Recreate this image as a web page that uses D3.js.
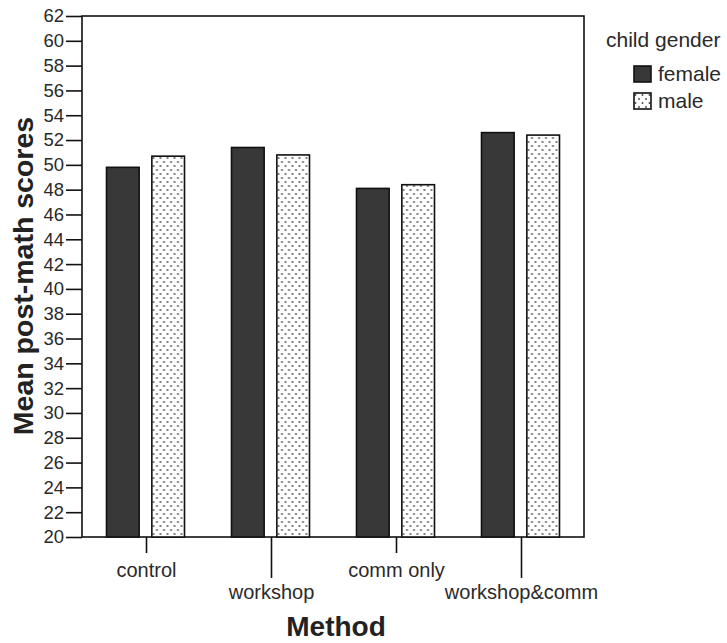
<!DOCTYPE html>
<html><head><meta charset="utf-8">
<script src="https://cdn.jsdelivr.net/npm/d3@7"></script>
<style>body{margin:0;background:#fff}svg{display:block}</style>
</head><body>
<svg id="c" width="727" height="643"></svg>
<script>
const methods = ["control","workshop","comm only","workshop&comm"];
const genders = ["female","male"];
const femaleValues = [49.8, 51.4, 48.1, 52.6];
const maleValues = [50.7, 50.8, 48.4, 52.4];
const yTicks = d3.range(20, 63, 2);

const svg = d3.select("#c");
const font = "'Liberation Sans', Arial, sans-serif";
const L = 82, R = 584, T = 16, B = 537;

const defs = svg.append("defs");
const pat = defs.append("pattern").attr("id","dots").attr("patternUnits","userSpaceOnUse")
  .attr("width",7).attr("height",8);
pat.append("rect").attr("width",7).attr("height",8).attr("fill","#fff");
pat.append("circle").attr("cx",1.5).attr("cy",2).attr("r",0.9).attr("fill","#444");
pat.append("circle").attr("cx",5).attr("cy",6).attr("r",0.9).attr("fill","#444");

const x = d3.scaleBand().domain(methods).range([L + 2, R]);
const x1 = d3.scaleBand().domain(genders).range([0, 78]).paddingInner(0.28);
const y = d3.scaleLinear().domain([20, 62]).range([B, T]);

const data = methods.map((m,i)=>({m, vals:[{g:"female",v:femaleValues[i]},{g:"male",v:maleValues[i]}]}));

// frame
svg.append("rect").attr("x",L).attr("y",T).attr("width",R-L).attr("height",B-T)
  .attr("fill","none").attr("stroke","#111").attr("stroke-width",1.6);

// bars
const g = svg.selectAll(".grp").data(data).enter().append("g")
  .attr("transform", d=>`translate(${x(d.m)+x.bandwidth()/2-40},0)`);
g.selectAll("rect").data(d=>d.vals).enter().append("rect")
  .attr("x", d=>x1(d.g)).attr("width", x1.bandwidth())
  .attr("y", d=>y(d.v)).attr("height", d=>B-y(d.v))
  .attr("fill", d=>d.g==="female" ? "#383838" : "url(#dots)")
  .attr("stroke","#111").attr("stroke-width",1.6);

// y axis
const yAxis = d3.axisLeft(y).tickValues(yTicks).tickSize(16).tickPadding(2).tickFormat(d3.format("d"));
const ya = svg.append("g").attr("transform",`translate(${L},0)`).call(yAxis);
ya.select(".domain").remove();
ya.selectAll("line").attr("stroke","#111").attr("stroke-width",1.6);
ya.selectAll("text").attr("font-family",font).attr("font-size",18.5).attr("fill","#2a2a2a");

// x axis
const xa = svg.append("g").attr("transform",`translate(0,${B})`).call(d3.axisBottom(x).tickSize(0));
xa.select(".domain").remove();
xa.selectAll(".tick line").attr("y2",(d,i)=> i%2 ? 41 : 16).attr("stroke","#111").attr("stroke-width",1.6);
xa.selectAll(".tick text").attr("y",(d,i)=> i%2 ? 62 : 40).attr("dy",0).attr("font-family",font).attr("font-size",20).attr("fill","#2a2a2a");

// titles
svg.append("text").attr("transform","translate(33,276) rotate(-90)").attr("text-anchor","middle")
  .attr("font-family",font).attr("font-size",28.5).attr("font-weight","bold").attr("fill","#222")
  .text("Mean post-math scores");
svg.append("text").attr("x",336).attr("y",636).attr("text-anchor","middle")
  .attr("font-family",font).attr("font-size",28).attr("font-weight","bold").attr("fill","#222")
  .text("Method");

// legend
svg.append("text").attr("x",606).attr("y",47).attr("font-family",font).attr("font-size",21).attr("fill","#2a2a2a").text("child gender");
const lg = svg.selectAll(".lg").data(genders).enter().append("g")
  .attr("transform",(d,i)=>`translate(634,${66+i*27})`);
lg.append("rect").attr("width",17).attr("height",16)
  .attr("fill", d=>d==="female" ? "#383838" : "url(#dots)").attr("stroke","#111").attr("stroke-width",1.6);
lg.append("text").attr("x",24).attr("y",15).attr("font-family",font).attr("font-size",21).attr("fill","#2a2a2a").text(d=>d);
</script>
</body></html>
